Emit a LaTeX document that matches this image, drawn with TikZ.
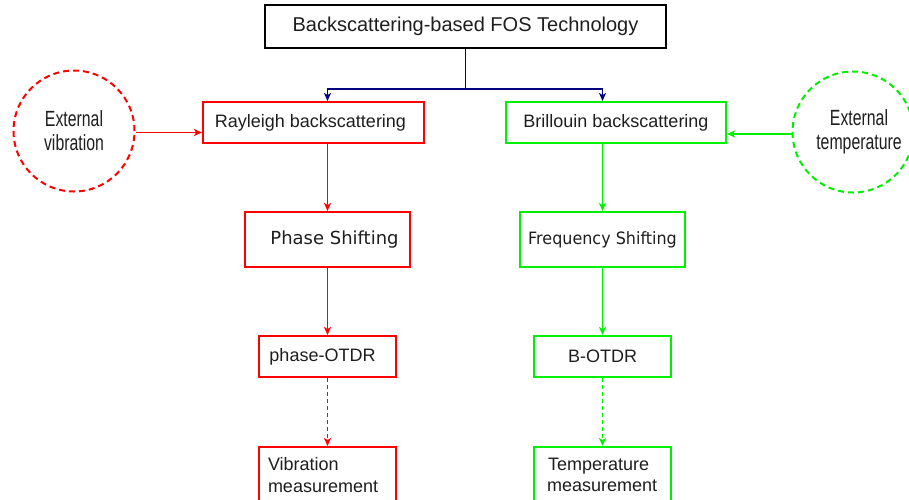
\documentclass[tikz,border=0pt]{standalone}
\usepackage{fontspec}
\setmainfont{Liberation Sans}
\newfontfamily\dejafont{DejaVu Sans}
\newfontfamily\dejanarrow[FakeStretch=0.94]{DejaVu Sans}
\newfontfamily\narrowfont[FakeStretch=0.72]{Liberation Sans}
\usetikzlibrary{arrows.meta,calc}
\definecolor{myred}{RGB}{255,0,0}
\definecolor{mygreen}{RGB}{0,240,0}
\definecolor{mynavy}{RGB}{0,0,128}
\definecolor{txt}{RGB}{30,30,30}
\tikzset{
  box/.style={draw, line width=2pt, rectangle, inner sep=0pt, text=txt, font=\fontsize{18}{21.6}\selectfont},
  redbox/.style={box, draw=myred},
  greenbox/.style={box, draw=mygreen},
  ring/.style={draw, circle, line width=2pt, dash pattern=on 6pt off 4pt, minimum size=121pt, inner sep=0pt, text=txt, align=center, font=\narrowfont\fontsize{22}{24}\selectfont},
  tip/.style={-{Stealth[length=8pt,width=7pt,inset=2pt]}},
  conn/.style={tip, line width=1.5pt},
  dconn/.style={tip, line width=1.5pt, dash pattern=on 4pt off 3pt},
}
\begin{document}
\begin{tikzpicture}[x=1pt,y=-1pt]
\useasboundingbox (0,0) rectangle (909,499);
% top
\node[box, draw=black, minimum width=401pt, minimum height=43pt, font=\fontsize{20}{24}\selectfont] (top) at (465.5,26.5) {\raisebox{-2pt}{Backscattering-based FOS Technology}};
\node[redbox, minimum width=221pt, minimum height=41pt] (ray) at (313.5,122.5) {\hspace*{-6pt}\raisebox{-1.5pt}{Rayleigh backscattering}};
\node[greenbox, minimum width=220pt, minimum height=41pt] (bri) at (616,122.5) {\raisebox{-1.5pt}{Brillouin backscattering}};
\node[redbox, minimum width=165pt, minimum height=55pt, font=\dejafont\fontsize{18}{21.6}\selectfont] (pha) at (327.5,239.5) {\hspace*{14pt}Phase Shifting};
\node[greenbox, minimum width=165pt, minimum height=55pt, font=\dejanarrow\fontsize{17}{20}\selectfont] (fre) at (602.5,239.5) {Frequency Shifting};
\node[redbox, minimum width=137pt, minimum height=41pt] (pot) at (327.5,356.5) {phase-OTDR\hspace*{10pt}};
\node[greenbox, minimum width=137pt, minimum height=41pt] (bot) at (602.5,356.5) {B-OTDR};
\node[redbox, minimum width=137pt, minimum height=56pt, anchor=north, align=left, text width=119pt] (vib) at (327.5,446) {Vibration\\measurement};
\node[greenbox, minimum width=137pt, minimum height=56pt, anchor=north, align=left, text width=111pt] (tem) at (602.5,446) {\hspace*{1pt}Temperature\\measurement};
% circles
\node[ring, draw=myred] (extv) at (74,131) {External\\vibration};
\node[ring, draw=mygreen] (extt) at (853,132) {\hspace*{12pt}External\\\hspace*{12pt}temperature};
% connectors
\coordinate (split) at ($(top.south)+(0,40)$);
\draw[mynavy, line width=1.5pt] (top.south) -- (split);
\draw[conn, mynavy] (split) -| (pha.north |- ray.north);
\draw[conn, mynavy] (split) -| (fre.north |- bri.north);
\draw[conn, myred] (pha.north |- ray.south) -- (pha.north);
\draw[conn, mygreen] (fre.north |- bri.south) -- (fre.north);
\draw[conn, myred] (pha.south) -- (pot.north);
\draw[conn, mygreen] (fre.south) -- (bot.north);
\draw[dconn, myred] (pot.south) -- (vib.north);
\draw[dconn, mygreen] (bot.south) -- (tem.north);
\draw[conn, myred] ([yshift=-1.5pt]extv.east) -- ([yshift=-1.5pt]extv.east -| ray.west);
\draw[conn, mygreen] ([yshift=-2pt]extt.west) -- ([yshift=-2pt]extt.west -| bri.east);
\end{tikzpicture}
\end{document}
